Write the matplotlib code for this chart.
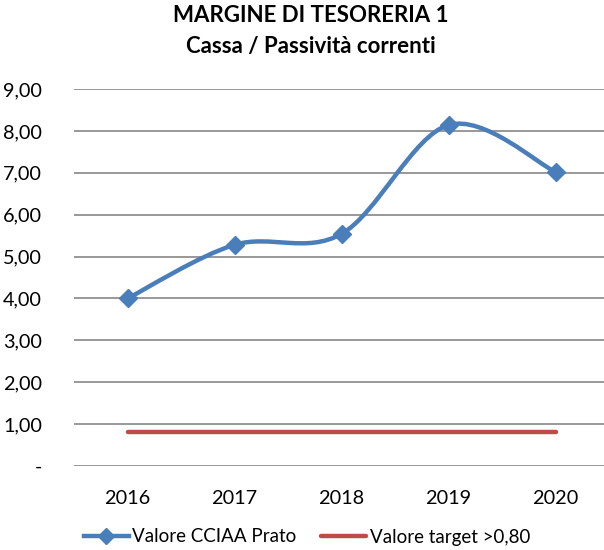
import matplotlib
matplotlib.use("Agg")
import matplotlib.pyplot as plt
from matplotlib.path import Path
from matplotlib.patches import PathPatch
from matplotlib.lines import Line2D
import numpy as np

years = ["2016", "2017", "2018", "2019", "2020"]
valore_cciaa = [4.00, 5.28, 5.54, 8.14, 7.02]
valore_target = [0.80, 0.80, 0.80, 0.80, 0.80]
y_ticks = [0, 1, 2, 3, 4, 5, 6, 7, 8, 9]
y_labels = ["-", "1,00", "2,00", "3,00", "4,00", "5,00", "6,00", "7,00", "8,00", "9,00"]

BLUE = "#4A7EBB"
RED = "#BE4B48"
GRID = "#868686"

plt.rcParams["font.family"] = ["Lato", "DejaVu Sans"]

fig = plt.figure(figsize=(6.04, 5.5), dpi=100)
ax = fig.add_axes([74 / 604, (550 - 466) / 550, (609 - 74) / 604, (466 - 89) / 550])

x = np.arange(len(years))

# Smoothed (Catmull-Rom -> Bezier) line like Excel's smoothed line
pts = np.column_stack([x, valore_cciaa]).astype(float)
verts = [tuple(pts[0])]
codes = [Path.MOVETO]
n = len(pts)
for i in range(n - 1):
    p0 = pts[max(i - 1, 0)]
    p1 = pts[i]
    p2 = pts[i + 1]
    p3 = pts[min(i + 2, n - 1)]
    c1 = p1 + (p2 - p0) / 6.0
    c2 = p2 - (p3 - p1) / 6.0
    verts += [tuple(c1), tuple(c2), tuple(p2)]
    codes += [Path.CURVE4] * 3
path = Path(verts, codes)
ax.add_patch(PathPatch(path, facecolor="none", edgecolor=BLUE, lw=3.2,
                       capstyle="round", joinstyle="round", zorder=3))
ax.plot(x, valore_cciaa, linestyle="none", marker="D", markersize=9,
        color=BLUE, zorder=4)

ax.plot(x, valore_target, color=RED, lw=3.2, solid_capstyle="round", zorder=3)

ax.set_xlim(-0.5, 4.5)
ax.set_ylim(0, 9)
ax.set_yticks(y_ticks)
ax.set_yticklabels(y_labels)
ax.set_xticks(x)
ax.set_xticklabels(years)
ax.tick_params(axis="both", length=0, labelsize=14.3, colors="#000000")
ax.tick_params(axis="y", pad=23)
ax.tick_params(axis="x", pad=17)
for s in ax.spines.values():
    s.set_visible(False)
ax.yaxis.grid(True, color=GRID, lw=1.2)
ax.set_axisbelow(True)

fig.text(311 / 604, 1 - 22 / 550, "MARGINE DI TESORERIA 1", ha="center", va="baseline",
         fontsize=16, fontweight="bold")
fig.text(311 / 604, 1 - 53 / 550, "Cassa / Passività correnti", ha="center", va="baseline",
         fontsize=16, fontweight="bold")

handles = [
    Line2D([0], [0], color=BLUE, lw=3.2, marker="D", markersize=8),
    Line2D([0], [0], color=RED, lw=3.2, solid_capstyle="round"),
]
fig.legend(handles, ["Valore CCIAA Prato", "Valore target >0,80"],
           loc="center", bbox_to_anchor=(307 / 604, 1 - 537 / 550), ncol=2,
           frameon=False, fontsize=13.5, handlelength=2.4, handletextpad=0.2,
           columnspacing=1.3)

fig.savefig("out.png", dpi=100)
